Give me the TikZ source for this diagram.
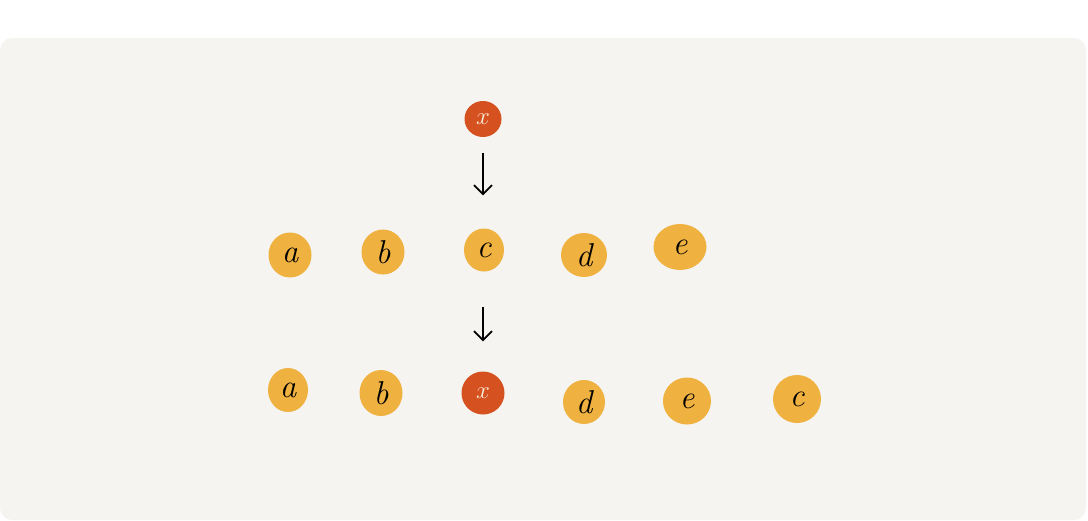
\documentclass[tikz,border=0pt]{standalone}
\usetikzlibrary{shapes.geometric,arrows.meta}
\definecolor{panel}{HTML}{F5F4F0}
\definecolor{dotorange}{HTML}{EFB13F}
\definecolor{dotred}{HTML}{D5511F}
\definecolor{cream}{HTML}{F8ECDA}
\tikzset{
  dot/.style={ellipse, fill=dotorange, inner sep=0pt, font=\fontsize{33}{35}\selectfont\itshape, text=black},
  reddot/.style={dot, fill=dotred, text=cream},
  arr/.style={-{Straight Barb[length=9pt,width=18pt,line width=1.8pt]}, line width=1.8pt, black}
}
\begin{document}
\begin{tikzpicture}[x=1pt,y=-1pt]
\useasboundingbox (0,0) rectangle (1088,520);
\fill[white] (0,0) rectangle (1088,520);
\fill[panel, rounded corners=12pt] (0,38) rectangle (1086,520);
% top
\node[reddot, minimum width=37pt, minimum height=36pt] (xtop) at (483,119) {$x$};
% row 1
\node[dot, minimum width=43pt, minimum height=45pt] (a1) at (290,255) {a};
\node[dot, minimum width=43pt, minimum height=45pt] (b1) at (383,252) {b};
\node[dot, minimum width=40pt, minimum height=43pt] (c1) at (484,250) {c};
\node[dot, minimum width=46pt, minimum height=44pt] (d1) at (584,255) {d};
\node[dot, minimum width=53pt, minimum height=46pt] (e1) at (680,247) {e};
% row 2
\node[dot, minimum width=40pt, minimum height=44pt] (a2) at (288,390) {a};
\node[dot, minimum width=43pt, minimum height=46pt] (b2) at (381,393) {b};
\node[reddot, minimum width=43pt, minimum height=43pt] (x2) at (483,393) {$x$};
\node[dot, minimum width=42pt, minimum height=44pt] (d2) at (584,402) {d};
\node[dot, minimum width=48pt, minimum height=47pt] (e2) at (687,401) {e};
\node[dot, minimum width=48pt, minimum height=48pt] (c2) at (797,399) {c};
% arrows
\draw[arr] ([yshift=-16pt]xtop.south) -- ([yshift=33pt]xtop.south |- c1.north);
\draw[arr] ([yshift=-35pt]x2.north |- c1.south) -- ([yshift=30pt]x2.north);
\end{tikzpicture}
\end{document}
